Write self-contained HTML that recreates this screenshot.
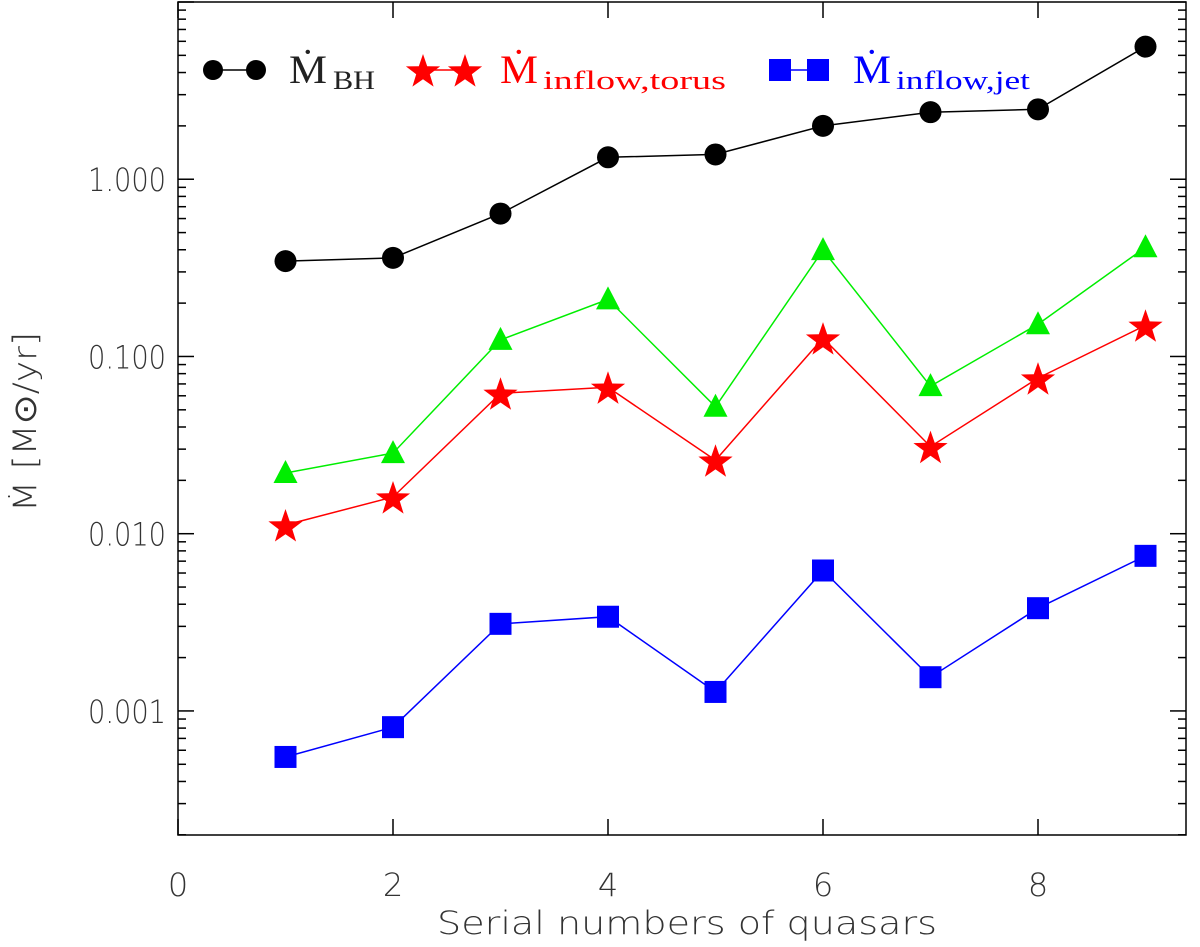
<!DOCTYPE html>
<html><head><meta charset="utf-8">
<style>
html,body{margin:0;padding:0;background:#fff;}
svg{display:block;}
</style></head>
<body>
<svg id="chart" width="1200" height="947" viewBox="0 0 1200 947" xmlns="http://www.w3.org/2000/svg">
  <rect x="0" y="0" width="1200" height="947" fill="#fff"/>
  <g id="axes"></g>
  <g id="series"></g>
  <g id="legend" font-family="'Liberation Serif', serif" font-size="40">
    <line x1="213" y1="70" x2="256" y2="70" stroke="#000" stroke-width="1.5"/>
    <circle cx="213" cy="70" r="10" fill="#000"/>
    <circle cx="256" cy="70" r="10" fill="#000"/>
    <text x="289" y="83" fill="#222" textLength="38" lengthAdjust="spacingAndGlyphs">Ṁ</text>
    <text x="333" y="89" font-size="26" fill="#222" textLength="42" lengthAdjust="spacingAndGlyphs">BH</text>
    <line x1="423" y1="70" x2="465" y2="70" stroke="#f00" stroke-width="1.5"/>
    <g id="legend-stars"></g>
    <text x="500" y="83" fill="#f00" textLength="38" lengthAdjust="spacingAndGlyphs">Ṁ</text>
    <text x="543" y="89" font-size="26" fill="#f00" textLength="183" lengthAdjust="spacingAndGlyphs">inflow,torus</text>
    <line x1="780" y1="70" x2="818" y2="70" stroke="#00f" stroke-width="1.5"/>
    <rect x="769" y="59" width="22" height="22" fill="#00f"/>
    <rect x="807" y="59" width="22" height="22" fill="#00f"/>
    <text x="853" y="83" fill="#00f" textLength="38" lengthAdjust="spacingAndGlyphs">Ṁ</text>
    <text x="896" y="89" font-size="26" fill="#00f" textLength="134" lengthAdjust="spacingAndGlyphs">inflow,jet</text>
  </g>
</svg>
<script>
const quasars = [1,2,3,4,5,6,7,8,9];
const mdotBH = [0.345,0.36,0.64,1.33,1.38,2.0,2.39,2.48,5.6];
const mdotGreen = [0.022,0.0285,0.124,0.21,0.052,0.398,0.068,0.152,0.413];
const mdotTorus = [0.0112,0.0161,0.062,0.067,0.026,0.127,0.031,0.0755,0.15];
const mdotJet = [0.00055,0.00081,0.0031,0.0034,0.00128,0.0062,0.00155,0.0038,0.0075];
const xTicks = [0,2,4,6,8];
const yTicks = [0.001,0.01,0.1,1];
const yTickLabels = ["0.001","0.010","0.100","1.000"];

const NS = "http://www.w3.org/2000/svg";
const L=178,R=1186,T=2,B=835;
const X0=0,X1=(R-L)/107.5;
const YMIN=-3.7,YMAX=1.0;
function xs(v){return L+(v-X0)/(X1-X0)*(R-L);}
function ys(v){return B-(Math.log10(v)-YMIN)/(YMAX-YMIN)*(B-T);}
function mk(tag,attrs,parent){const e=document.createElementNS(NS,tag);for(const k in attrs)e.setAttribute(k,attrs[k]);parent.appendChild(e);return e;}

const axes=document.getElementById('axes');
const frame=mk('rect',{x:L,y:T,width:R-L,height:B-T,fill:'none',stroke:'#000','stroke-width':1.5},axes);


xTicks.forEach(t=>{
  const x=xs(t);
  const a=mk('line',{x1:x,y1:B,x2:x,y2:B-16,stroke:'#000','stroke-width':1.5},axes);
  
  
  const b=mk('line',{x1:x,y1:T,x2:x,y2:T+16,stroke:'#000','stroke-width':1.5},axes);
  
  
  const tx=mk('text',{x:x,y:896,'text-anchor':'middle','font-family':"'DejaVu Sans', sans-serif",'font-weight':'200','font-size':32,fill:'#333'},axes);
  tx.textContent=String(t);
  
  
});
for(let d=-4;d<=1;d++){
  for(let m=1;m<=9;m++){
    const v=m*Math.pow(10,d);
    const lv=Math.log10(v);
    if(lv<YMIN||lv>YMAX) continue;
    const y=ys(v);
    const len=m===1?16:8;
    const a=mk('line',{x1:L,y1:y,x2:L+len,y2:y,stroke:'#000','stroke-width':1.5},axes);
    
    
    const b=mk('line',{x1:R,y1:y,x2:R-len,y2:y,stroke:'#000','stroke-width':1.5},axes);
    
    
  }
}
yTicks.forEach((t,i)=>{
  const tx=mk('text',{x:88,y:ys(t)+12,'font-family':"'DejaVu Sans', sans-serif",'font-weight':'200','font-size':32,fill:'#333',textLength:78,lengthAdjust:'spacingAndGlyphs'},axes);
  tx.textContent=yTickLabels[i];
  
  
});
const xt=mk('text',{x:437,y:934,'font-family':"'DejaVu Sans', sans-serif",'font-weight':'200','font-size':32,fill:'#333',textLength:500,lengthAdjust:'spacingAndGlyphs'},axes);
xt.textContent='Serial numbers of quasars';


const yt=mk('text',{x:0,y:0,'font-family':"'DejaVu Sans', sans-serif",'font-weight':'200','font-size':32,fill:'#333',transform:'translate(36,512) rotate(-90)',textLength:180,lengthAdjust:'spacingAndGlyphs'},axes);
yt.textContent='Ṁ [M⊙/yr]';



const series=document.getElementById('series');
function starPts(cx,cy,ro){
  const ri=ro*0.4;let p=[];
  for(let i=0;i<10;i++){const r=i%2?ri:ro;const a=-Math.PI/2+i*Math.PI/5;p.push((cx+r*Math.cos(a)).toFixed(1)+','+(cy+r*Math.sin(a)).toFixed(1));}
  return p.join(' ');
}
function drawSeries(vals,color,shape,name){
  const pts=quasars.map((q,i)=>xs(q).toFixed(1)+','+ys(vals[i]).toFixed(1)).join(' ');
  const pl=mk('polyline',{points:pts,fill:'none',stroke:color,'stroke-width':1.5},series);
  
  
  quasars.forEach((q,i)=>{
    const x=xs(q),y=ys(vals[i]);let e;
    if(shape==='circle') e=mk('circle',{cx:x,cy:y,r:11,fill:color},series);
    else if(shape==='square') e=mk('rect',{x:x-11,y:y-11,width:22,height:22,fill:color},series);
    else if(shape==='tri') e=mk('polygon',{points:`${x},${y-13} ${x-12},${y+10} ${x+12},${y+10}`,fill:color},series);
    else e=mk('polygon',{points:starPts(x,y+2,18),fill:color},series);
    
    
  });
}
drawSeries(mdotBH,'#000','circle','bh');
drawSeries(mdotGreen,'#00ee00','tri','green');
drawSeries(mdotTorus,'#f00','star','torus');
drawSeries(mdotJet,'#00f','square','jet');
const ls=document.getElementById('legend-stars');
[423,465].forEach(x=>{
  const s=mk('polygon',{points:starPts(x,72,18),fill:'#f00'},ls);
  
  
});
</script>
</body></html>
